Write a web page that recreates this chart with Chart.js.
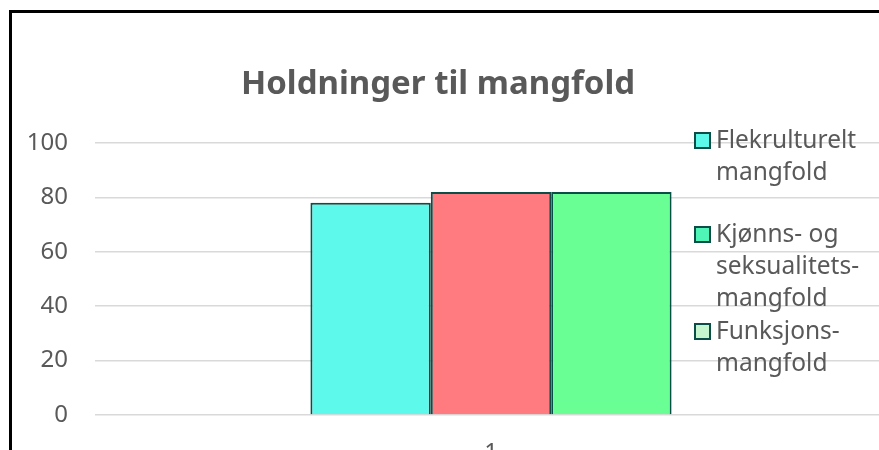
<!DOCTYPE html>
<html>
<head>
<meta charset="utf-8">
<script src="https://cdn.jsdelivr.net/npm/chart.js@4"></script>
<style>
  html, body { margin: 0; padding: 0; overflow: hidden; background: #fff; }
  #wrap { position: absolute; left: 0; top: 0; width: 900px; height: 480px; }
  #frame { position: absolute; left: 9px; top: 10px; width: 1000px; height: 1000px;
           border-left: 3px solid #000; border-top: 3px solid #000; pointer-events: none; }
  #legend { position: absolute; left: 694px; top: 128px; font-family: "Noto Sans", sans-serif;
            font-size: 24.5px; color: #595959; }
  .item { position: absolute; left: 0; width: 180px; }
  .box { position: absolute; left: 0; width: 13px; height: 13px; border: 2px solid #0b4e47; }
  .txt { position: absolute; left: 22px; line-height: 32px; white-space: nowrap; }
</style>
</head>
<body>
<div id="wrap"><canvas id="chart" width="900" height="480"></canvas></div>
<div id="frame"></div>
<div id="legend"></div>
<script>
// Holdninger til mangfold

const title = "Holdninger til mangfold";
const categories = ["1"];
const seriesNames = [
    ["Flekrulturelt", "mangfold"],
    ["Kjønns- og", "seksualitets-", "mangfold"],
    ["Funksjons-", "mangfold"]
];
const flerkultureltValues = [78];
const kjonnValues = [82];
const funksjonValues = [82];
const yTicks = [0, 20, 40, 60, 80, 100];

const barColors = ["#5df9ea", "#ff7b80", "#6aff94"];
const legendColors = ["#5df9ea", "#4ef5b6", "#c6f6ce"];
const edge = "#0b4e47";

// title sits a bit left of the plot centre in the original, so draw it ourselves
const titlePlugin = {
    id: "offsetTitle",
    afterDraw(c) {
        const g = c.ctx;
        g.save();
        g.font = "bold 33px 'Noto Sans'";
        g.fillStyle = "#595959";
        g.textAlign = "center";
        g.textBaseline = "middle";
        g.fillText(title, 438, 85);
        g.restore();
    }
};

const ctx = document.getElementById("chart");
const chart = new Chart(ctx, {
    type: "bar",
    data: {
        labels: categories,
        datasets: [
            { label: seriesNames[0].join(" "), data: flerkultureltValues, backgroundColor: barColors[0] },
            { label: seriesNames[1].join(" "), data: kjonnValues, backgroundColor: barColors[1] },
            { label: seriesNames[2].join(" "), data: funksjonValues, backgroundColor: barColors[2] }
        ].map(d => Object.assign(d, { borderColor: edge, borderWidth: 2, borderSkipped: "bottom" }))
    },
    options: {
        responsive: false,
        animation: false,
        barPercentage: 1,
        categoryPercentage: 0.456,
        layout: { padding: { left: 20, right: 13, top: 143, bottom: 25 } },
        plugins: {
            legend: { display: false },
            tooltip: { enabled: false },
            title: { display: false }
        },
        scales: {
            x: {
                grid: { display: false },
                border: { display: false },
                ticks: { color: "#595959", font: { family: "Noto Sans", size: 24 }, padding: 16 },
                afterFit: s => { s.height = 40; }
            },
            y: {
                min: 0,
                max: 100,
                afterBuildTicks: s => { s.ticks = yTicks.map(v => ({ value: v })); },
                grid: { color: "#d9d9d9", lineWidth: 1.5, drawTicks: false },
                border: { display: false },
                ticks: { color: "#595959", font: { family: "Noto Sans", size: 24 }, padding: 27 },
                afterFit: s => { s.width = 75; }
            }
        }
    },
    plugins: [titlePlugin]
});

// legend drawn as html over the plot (it overlaps the grid in the original)
const legendTops = [0, 94, 191];
const legend = document.getElementById("legend");
seriesNames.forEach((lines, i) => {
    const item = document.createElement("div");
    item.className = "item";
    item.style.top = legendTops[i] + "px";
    const box = document.createElement("div");
    box.className = "box";
    box.style.top = "4px";
    box.style.background = legendColors[i];
    const txt = document.createElement("div");
    txt.className = "txt";
    txt.style.top = "-5px";
    txt.innerHTML = lines.join("<br>");
    item.appendChild(box);
    item.appendChild(txt);
    legend.appendChild(item);
});
</script>
</body>
</html>
